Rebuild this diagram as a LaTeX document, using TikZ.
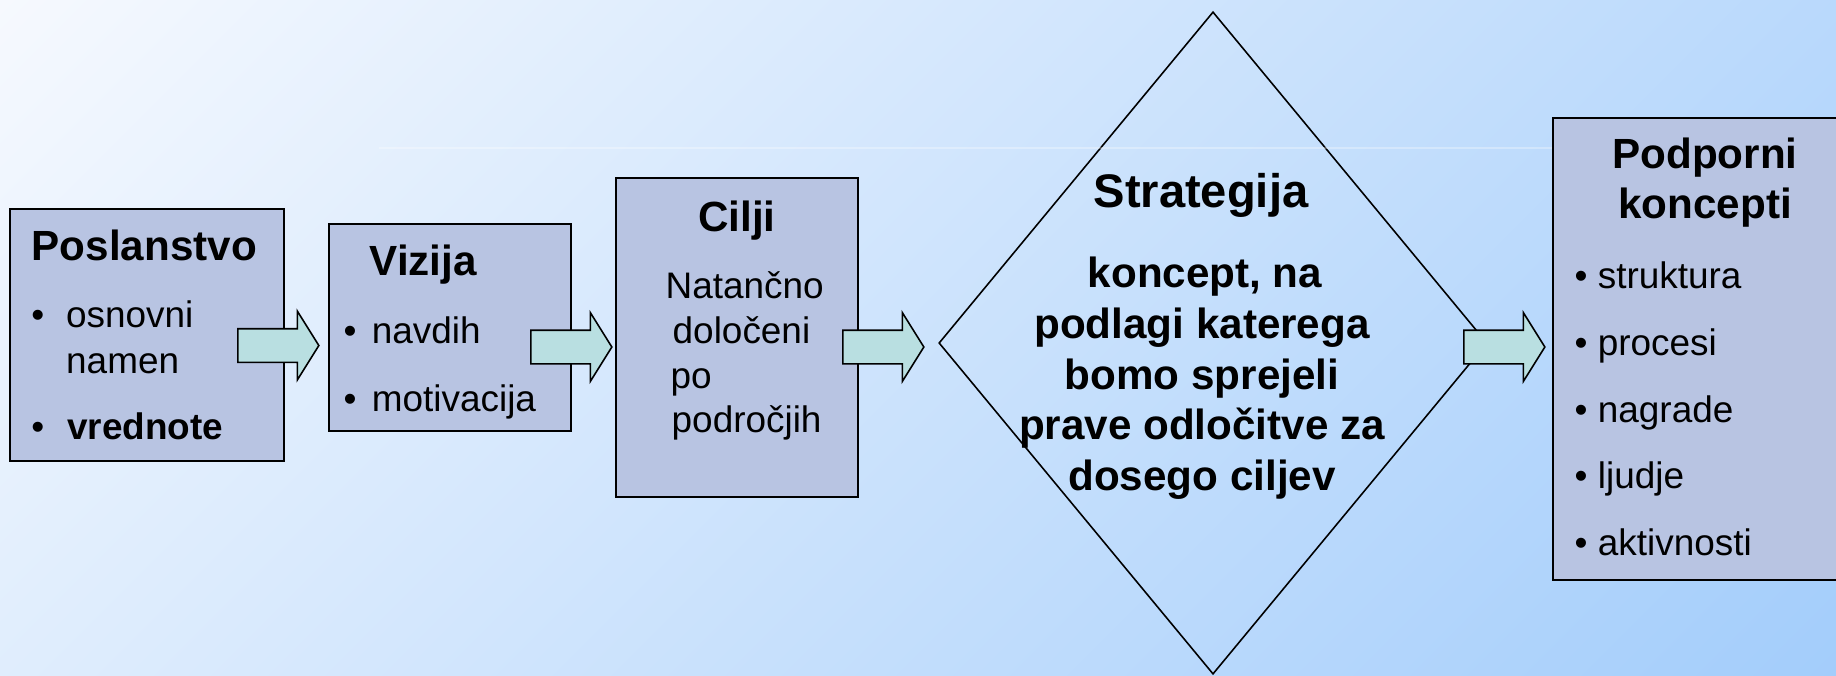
\documentclass[tikz,border=0pt]{standalone}
\usepackage{fontspec}
\setmainfont{Liberation Sans}
\usepackage{tikz}
\usetikzlibrary{shapes.geometric,shapes.arrows}

\definecolor{bgtop}{RGB}{246,249,254}
\definecolor{bgbottom}{RGB}{163,205,251}
\definecolor{boxfill}{RGB}{184,196,226}
\definecolor{arrowfill}{RGB}{185,223,225}
\newcommand{\headfont}{\fontsize{12pt}{14pt}\selectfont\bfseries}
\newcommand{\bigheadfont}{\fontsize{13.4pt}{16pt}\selectfont\bfseries}
\newcommand{\bodyfont}{\fontsize{10.5pt}{12.6pt}\selectfont}
\newcommand{\bul}{\kern-0.05cm•\kern0.05cm\ }

\begin{document}
\begin{tikzpicture}[x=0.01cm, y=-0.01cm,
		block/.style={draw, line width=0.6pt, fill=boxfill, inner sep=0},
		flow/.style={single arrow, draw, line width=0.45pt, fill=arrowfill, anchor=tail,
			inner xsep=0, inner ysep=0.16cm, minimum height=0.81cm,
			single arrow head extend=0.175cm, single arrow tip angle=116},
		headline/.style={font=\headfont, inner sep=0, anchor=base},
		bodyline/.style={font=\bodyfont, inner sep=0, anchor=base west},
		stratline/.style={font=\headfont, inner sep=0, anchor=base}] % 1
		\useasboundingbox (0,0) rectangle (1836,675);
		\begin{scope}
			\clip (0,0) rectangle (1836,675);
			\begin{scope}[transform canvas={rotate around={-45:(0,0)}}]
				\shade[left color=bgtop, right color=bgbottom] (0cm,-4.78cm) rectangle (17.76cm,12.99cm);
			\end{scope}

			% boxes
			\node[block, minimum width=2.73cm, minimum height=2.52cm] (poslanstvo) at (147,335) {};
			\node[block, minimum width=2.42cm, minimum height=2.07cm] (vizija) at (450,327.5) {};
			\node[block, minimum width=2.42cm, minimum height=3.19cm] (cilji) at (737,337.5) {};
			\node[diamond, draw, line width=0.45pt, inner sep=0,
				minimum width=5.48cm, minimum height=6.62cm] (strategija) at (1213,343) {};
			\node[block, minimum width=2.97cm, minimum height=4.62cm] (podpora) at (1701.5,349) {};

			\coordinate (rule) at (379,148);
			\draw[white, opacity=0.3, line width=0.3pt] (rule) -- (rule -| podpora.west);

			% arrows
			\node[flow] (flowA) at (237,345.5) {};
			\node[flow] (flowB) at (530,347) {};
			\node[flow] (flowC) at (842,347) {};
			\node[flow] (flowD) at (1463,347) {};

			% Poslanstvo
			\node[headline, anchor=base west] (poslanstvoT) at (31,260) {Poslanstvo};
			\node[bodyline] (poslanstvo1) at (30.6,327) {\makebox[0.349cm][l]{•}osnovni};
			\node[bodyline] (poslanstvo2) at (65.5,373) {namen};
			\node[bodyline] (poslanstvo3) at (30.6,439) {\makebox[0.36cm][l]{•}\textbf{vrednote}};

			% Vizija
			\node[headline, anchor=base west] (vizijaT) at (369,275) {Vizija};
			\node[bodyline] (vizija1) at (348,343) {\bul navdih};
			\node[bodyline] (vizija2) at (348,411) {\bul motivacija};

			% Cilji
			\node[headline] (ciljiT) at (737,231) {Cilji};
			\node[bodyline] (cilji1) at (665,298) {Natančno};
			\node[bodyline] (cilji2) at (672,343) {določeni};
			\node[bodyline] (cilji3) at (670,388) {po};
			\node[bodyline] (cilji4) at (671,432) {področjih};

			% Strategija
			\node[headline, font=\bigheadfont] (strategijaT) at (1201,207) {Strategija};
			\node[stratline] (strategija1) at (1205,287) {koncept, na};
			\node[stratline] (strategija2) at (1202,338) {podlagi katerega};
			\node[stratline] (strategija3) at (1202,389) {bomo sprejeli};
			\node[stratline] (strategija4) at (1202,439.5) {prave odločitve za};
			\node[stratline] (strategija5) at (1202,490.5) {dosego ciljev};

			% Podporni koncepti
			\node[headline] (podporaT1) at (1705,168) {Podporni};
			\node[headline] (podporaT2) at (1705,218) {koncepti};
			\node[bodyline] (podpora1) at (1574,288) {• struktura};
			\node[bodyline] (podpora2) at (1574,355) {• procesi};
			\node[bodyline] (podpora3) at (1574,422) {• nagrade};
			\node[bodyline] (podpora4) at (1574,488) {• ljudje};
			\node[bodyline] (podpora5) at (1574,555) {• aktivnosti};
		\end{scope}
		\end{tikzpicture}
\end{document}
